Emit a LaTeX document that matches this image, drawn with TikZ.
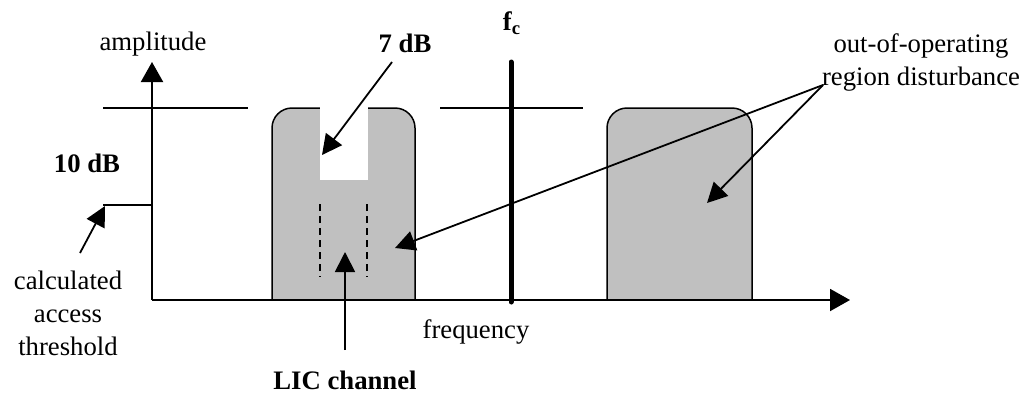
\documentclass[tikz,border=0pt]{standalone}
\usepackage{fontspec}
\setmainfont{Liberation Serif}
\usepackage{tikz}
\usetikzlibrary{arrows.meta, calc, positioning}
\usepackage{xcolor}
\definecolor{bandgray}{HTML}{C0C0C0}

\begin{document}
\begin{tikzpicture}[
    x=0.5pt, y=0.5pt,
    every node/.style={font=\fontsize{13.35}{16.5}\selectfont, inner sep=0pt},
    bold/.style={font=\fontsize{13.35}{16.5}\selectfont\bfseries},
    band/.style={fill=bandgray, draw, line width=0.75pt},
    axis/.style={line width=1pt, -{Triangle[length=10pt, width=11pt]}},
    level/.style={line width=0.75pt},
    pointer/.style={line width=0.9pt, -{Triangle[length=10pt, width=10pt]}}
]
    \useasboundingbox (0,0) rectangle (1031,393);

    % Kanal-Baender
    \draw[band] (272,93) -- (272,265) arc[start angle=180, end angle=90, radius=10pt]
        -- (395,285) arc[start angle=90, end angle=0, radius=10pt] -- (415,93) -- cycle;
    \fill[white] (320,287) rectangle (368,213);
    \draw[band] (607,93) -- (607,265) arc[start angle=180, end angle=90, radius=10pt]
        -- (732,285) arc[start angle=90, end angle=0, radius=10pt] -- (752,93) -- cycle;

    % LIC-Kanal Grenzen
    \draw[dashed, line width=0.6pt, dash pattern=on 3.5pt off 2.5pt] (320,189) -- (320,116);
    \draw[dashed, line width=0.6pt, dash pattern=on 3.5pt off 2.5pt] (367,189) -- (367,116);

    % Achsen
    \coordinate (origin) at (152,93);
    \coordinate (ytop) at (152,331);
    \coordinate (xend) at (850,93);
    \draw[axis] (origin) -- (ytop);
    \draw[axis] (origin) -- (xend);

    % Pegel
    \draw[level] (103,285) -- (248,285);
    \draw[level] (440,285) -- (583,285);
    \draw[level] (103,188) -- (152,188);

    % Traegerfrequenz
    \coordinate (fctop) at (511,331);
    \coordinate (fcbot) at (511,91);
    \draw[line width=2.5pt, line cap=round] (fctop) -- (fcbot);

    % Beschriftungen
    \node[anchor=base] (amp) at (153,343) {amplitude};
    \node[bold, anchor=base] (tendb) at (87,221) {10 dB};
    \node[anchor=north, align=center] (calc) at (68,122) {calculated\\access\\threshold};
    \node[bold, anchor=base] (sevendb) at (405,341) {7 dB};
    \node[bold, anchor=base] (fc) at (512,363) {f\textsubscript{c}};
    \node[anchor=base] (freq) at (476,55) {frequency};
    \node[bold, anchor=base] (lic) at (345,4) {LIC channel};
    \node[anchor=north, align=center] (ood) at (921,360) {out-of-operating\\region disturbance};

    % Pfeile
    \coordinate (calctail) at (80,140);
    \coordinate (calctip) at (105,187);
    \coordinate (seventail) at (392,331);
    \coordinate (seventip) at (322,238);
    \coordinate (lictail) at (345,43);
    \coordinate (lictip) at (345,141);
    \coordinate (oodtail) at (823,308);
    \coordinate (oodtipa) at (395,145);
    \coordinate (oodtipb) at (707,190);
    \draw[pointer] (calctail) -- (calctip);
    \draw[pointer] (seventail) -- (seventip);
    \draw[pointer] (lictail) -- (lictip);
    \draw[pointer] (oodtail) -- (oodtipa);
    \draw[pointer] (oodtail) -- (oodtipb);
\end{tikzpicture}
\end{document}
